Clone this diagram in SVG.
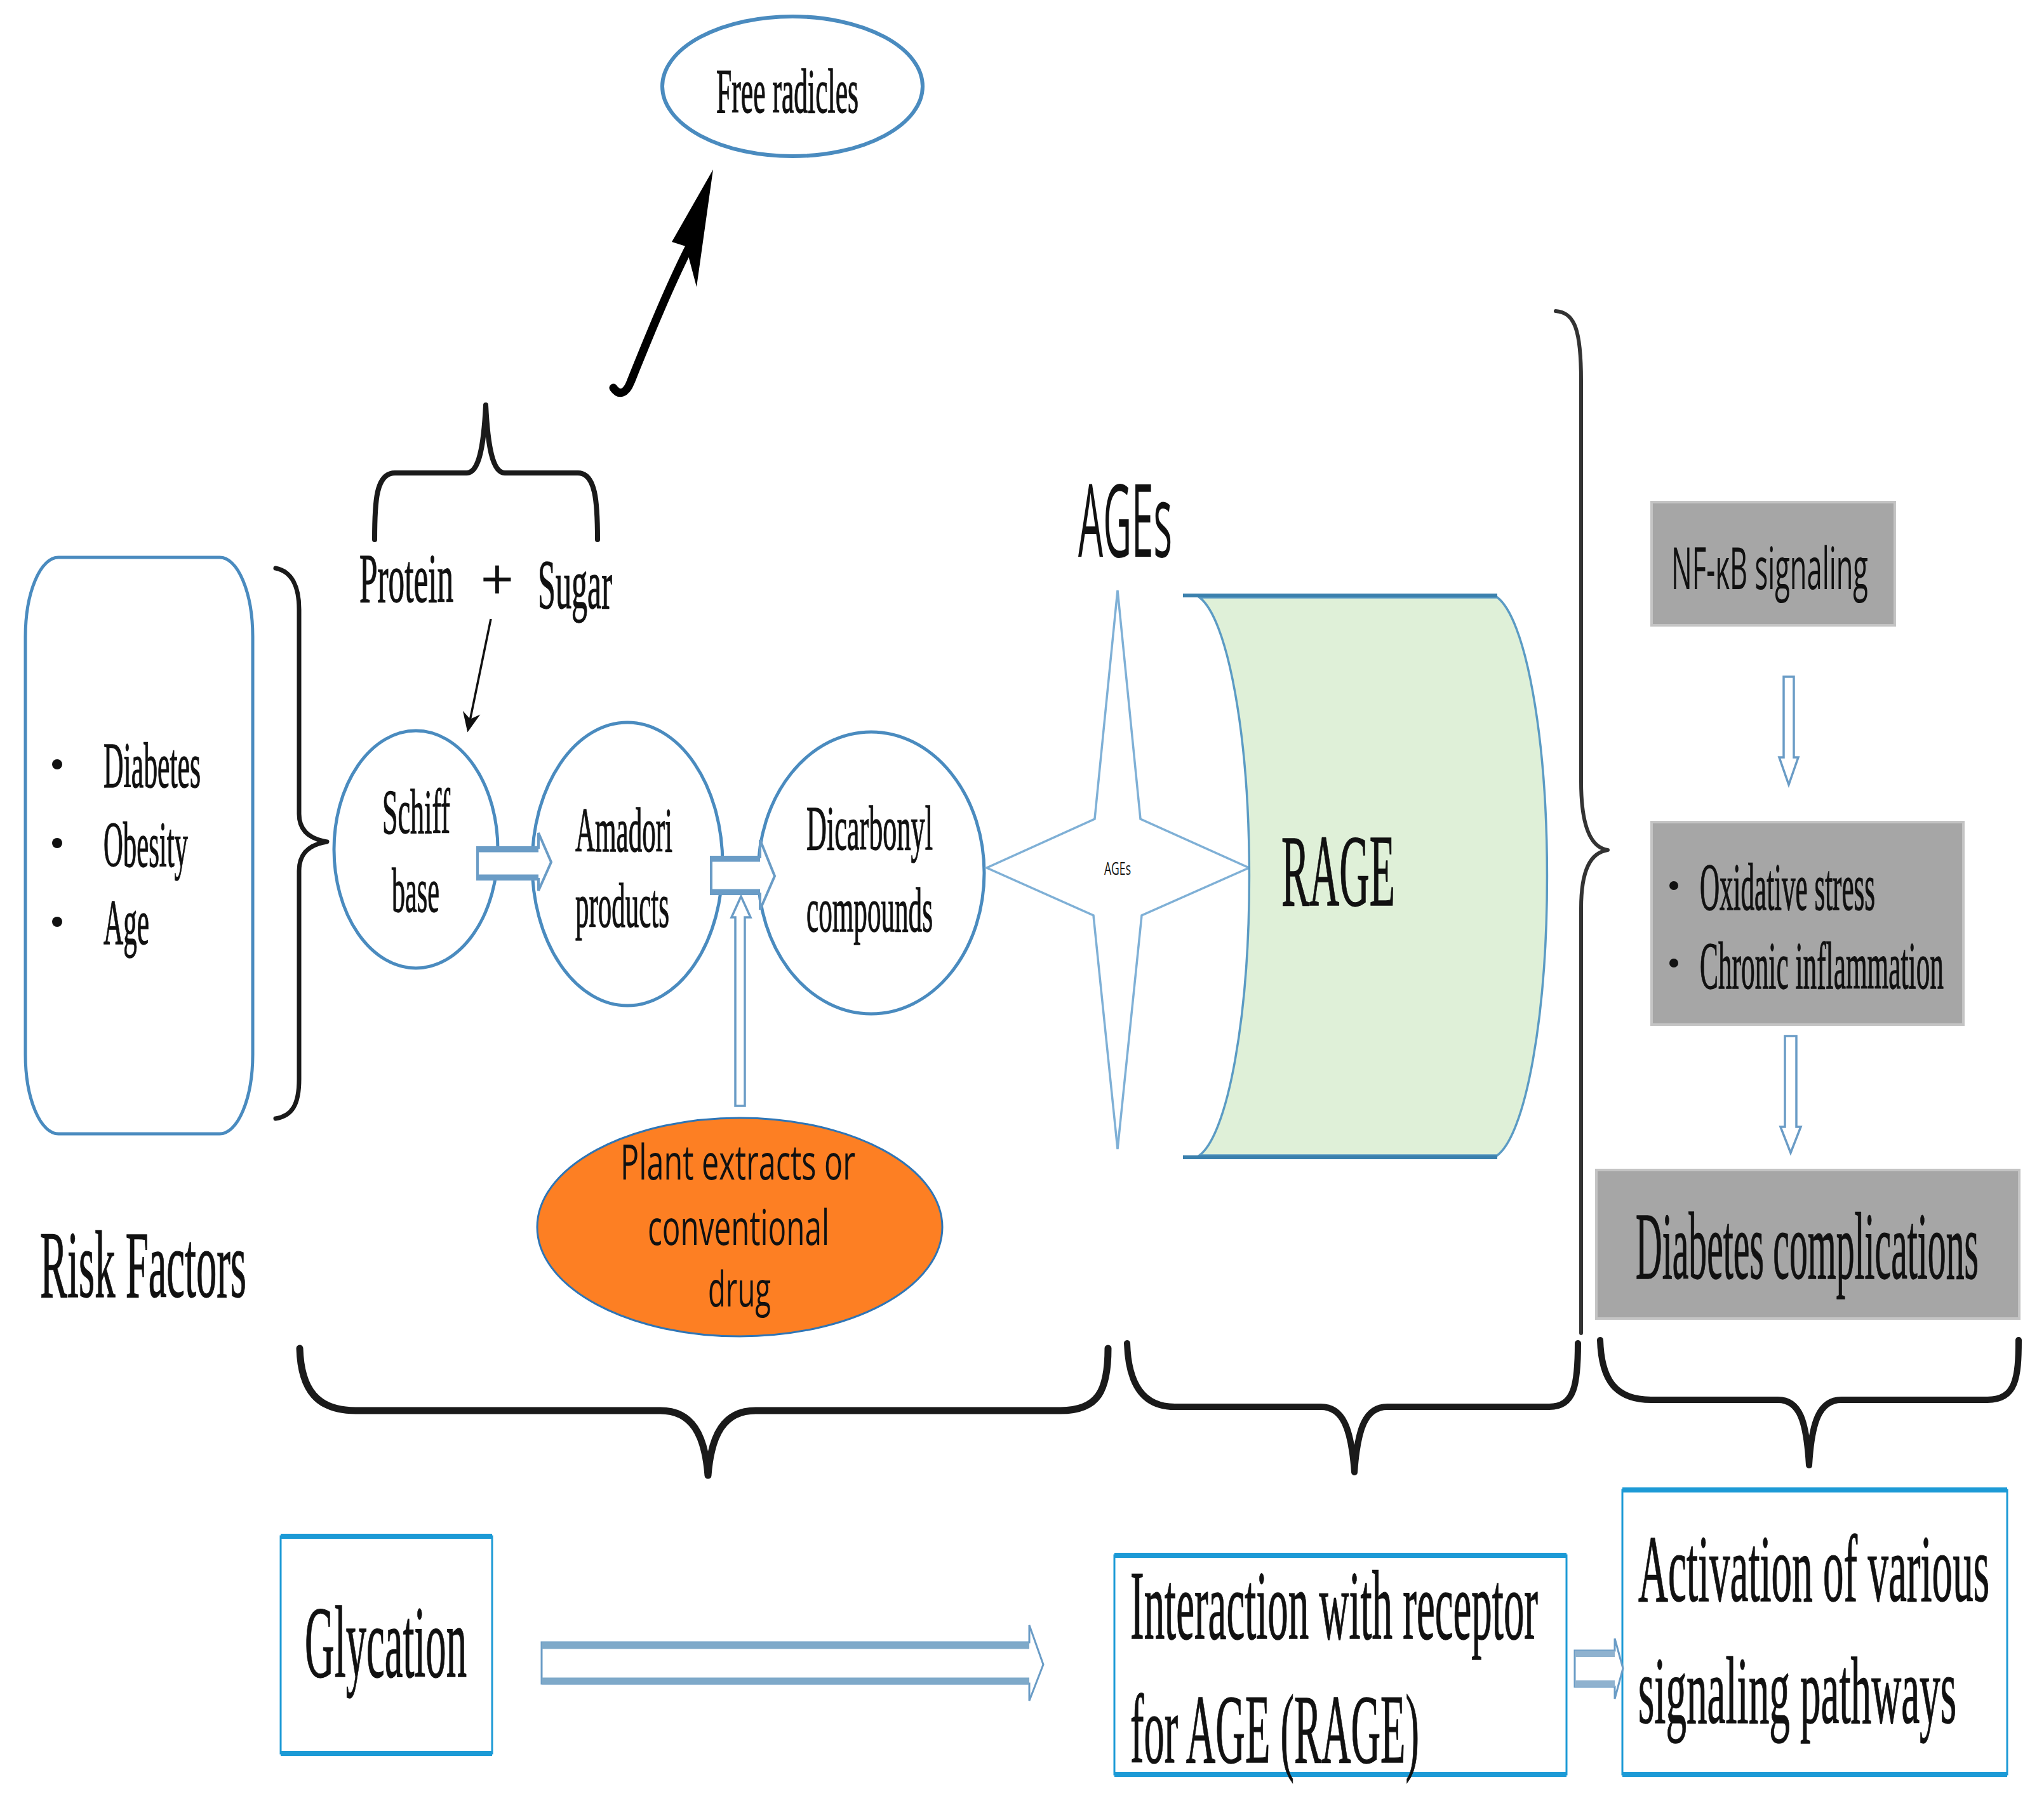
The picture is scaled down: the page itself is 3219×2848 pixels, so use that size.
<svg xmlns="http://www.w3.org/2000/svg" width="3219" height="2848" viewBox="0 0 3219 2848">
<style>
.serif{font-family:"Liberation Serif","Times New Roman",serif;fill:#111;stroke:#111;stroke-width:1.3;}
.sans{font-family:"Open Sans","Liberation Sans",sans-serif;fill:#111;}
.circ{fill:#fff;stroke:#4a8bbf;stroke-width:5;}
.hollow{fill:#fff;stroke:#6a9cc6;stroke-width:4;stroke-linejoin:miter;}
.body{stroke:#6a9cc6;stroke-width:9;}
.brace{fill:none;stroke:#1a1a1a;stroke-linecap:round;stroke-linejoin:round;}
.gray{fill:#a6a6a6;stroke:#c4c4c4;stroke-width:4;}
.bluebox{fill:#fff;stroke:#1c9ad6;stroke-width:3;}
.blueedge{stroke:#1c9ad6;stroke-width:8;}
</style>
<defs>
<marker id="thinhead" markerWidth="10" markerHeight="10" refX="8" refY="5" orient="auto" markerUnits="strokeWidth">
<path d="M0,1 L9,5 L0,9 L3,5 Z" fill="#111"/>
</marker>
</defs>
<rect width="3219" height="2848" fill="#fff"/>

<g id="free-radicles">
<ellipse cx="1248" cy="136" rx="205" ry="110" fill="#fff" stroke="#4a8bbf" stroke-width="6"/>
<text class="serif" x="1128" y="177" font-size="100" textLength="224" lengthAdjust="spacingAndGlyphs">Free radicles</text>
</g>

<g id="protein-sugar">
<text class="serif" x="566" y="948" font-size="110" textLength="148" lengthAdjust="spacingAndGlyphs">Protein</text>
<text class="serif" x="783" y="943" font-size="90" text-anchor="middle">+</text>
<text class="serif" x="847" y="958" font-size="110" textLength="117" lengthAdjust="spacingAndGlyphs">Sugar</text>
</g>

<g id="risk-factors">
<rect x="40" y="878" width="358" height="908" rx="52" ry="125" fill="#fff" stroke="#4a8bbf" stroke-width="5"/>
<circle cx="90" cy="1204" r="8" fill="#111"/>
<circle cx="90" cy="1328" r="8" fill="#111"/>
<circle cx="90" cy="1452" r="8" fill="#111"/>
<text class="serif" x="163" y="1240" font-size="102" textLength="153" lengthAdjust="spacingAndGlyphs">Diabetes</text>
<text class="serif" x="163" y="1365" font-size="102" textLength="133" lengthAdjust="spacingAndGlyphs">Obesity</text>
<text class="serif" x="163" y="1487" font-size="102" textLength="72" lengthAdjust="spacingAndGlyphs">Age</text>
<text class="serif" x="63" y="2043" font-size="150" textLength="325" lengthAdjust="spacingAndGlyphs">Risk Factors</text>
</g>

<g id="schiff-base">
<ellipse class="circ" cx="655" cy="1338" rx="129" ry="187"/>
<text class="serif" x="602" y="1312" font-size="100" textLength="107" lengthAdjust="spacingAndGlyphs">Schiff</text>
<text class="serif" x="617" y="1436" font-size="100" textLength="75" lengthAdjust="spacingAndGlyphs">base</text>
</g>

<g id="amadori">
<ellipse class="circ" cx="988" cy="1361" rx="150" ry="223"/>
<text class="serif" x="906" y="1341" font-size="100" textLength="153" lengthAdjust="spacingAndGlyphs">Amadori</text>
<text class="serif" x="906" y="1460" font-size="100" textLength="148" lengthAdjust="spacingAndGlyphs">products</text>
</g>

<g id="dicarbonyl">
<ellipse class="circ" cx="1372" cy="1375" rx="178" ry="222"/>
<text class="serif" x="1270" y="1338" font-size="100" textLength="199" lengthAdjust="spacingAndGlyphs">Dicarbonyl</text>
<text class="serif" x="1270" y="1467" font-size="100" textLength="199" lengthAdjust="spacingAndGlyphs">compounds</text>
</g>

<g id="plant-extracts">
<ellipse cx="1165" cy="1933" rx="319" ry="172" fill="#fd7f23" stroke="#2e75b6" stroke-width="3"/>
<text class="sans" x="977" y="1858" font-size="76" textLength="370" lengthAdjust="spacingAndGlyphs">Plant extracts or</text>
<text class="sans" x="1020" y="1961" font-size="76" textLength="286" lengthAdjust="spacingAndGlyphs">conventional</text>
<text class="sans" x="1115" y="2058" font-size="76" textLength="99" lengthAdjust="spacingAndGlyphs">drug</text>
</g>

<g id="ages">
<text class="sans" x="1698" y="877" font-size="160" textLength="148" lengthAdjust="spacingAndGlyphs">AGEs</text>
<polygon points="1760,930 1796,1290 1967,1367 1798,1442 1760,1810 1722,1442 1554,1367 1724,1290" fill="#fff" stroke="#7fb0d6" stroke-width="3.5" stroke-linejoin="miter"/>
<text class="sans" x="1739" y="1378" font-size="28" textLength="42" lengthAdjust="spacingAndGlyphs">AGEs</text>
</g>

<g id="rage">
<path d="M1889 941 L2358 941 A93 445 0 0 1 2358 1820 L1889 1820 A93 445 0 0 0 1889 941 Z" fill="#dff0d8" stroke="#5b9bc4" stroke-width="3.5"/>
<line x1="1863" y1="938" x2="2358" y2="938" stroke="#3a80ad" stroke-width="6"/>
<line x1="1863" y1="1823" x2="2358" y2="1823" stroke="#3a80ad" stroke-width="6"/>
<text class="serif" x="2018" y="1426" font-size="160" textLength="179" lengthAdjust="spacingAndGlyphs">RAGE</text>
</g>

<g id="nfkb">
<rect class="gray" x="2601" y="791" width="383" height="194"/>
<text class="sans" x="2632" y="928" font-size="92" textLength="310" lengthAdjust="spacingAndGlyphs">NF-κB signaling</text>
</g>

<g id="stress">
<rect class="gray" x="2601" y="1295" width="491" height="319"/>
<circle cx="2636" cy="1395" r="7" fill="#111"/>
<circle cx="2636" cy="1517" r="7" fill="#111"/>
<text class="serif" x="2677" y="1433" font-size="106" textLength="276" lengthAdjust="spacingAndGlyphs">Oxidative stress</text>
<text class="serif" x="2677" y="1557" font-size="106" textLength="384" lengthAdjust="spacingAndGlyphs">Chronic inflammation</text>
</g>

<g id="complications">
<rect class="gray" x="2514" y="1843" width="666" height="234"/>
<text class="serif" x="2576" y="2014" font-size="150" textLength="540" lengthAdjust="spacingAndGlyphs">Diabetes complications</text>
</g>

<g id="glycation">
<rect class="bluebox" x="442" y="2420" width="333" height="342"/>
<line class="blueedge" x1="442" y1="2420" x2="775" y2="2420"/>
<line class="blueedge" x1="442" y1="2762" x2="775" y2="2762"/>
<text class="serif" x="480" y="2641" font-size="160" textLength="255" lengthAdjust="spacingAndGlyphs">Glycation</text>
</g>

<g id="interaction">
<rect class="bluebox" x="1755" y="2450" width="712" height="345"/>
<line class="blueedge" x1="1755" y1="2450" x2="2467" y2="2450"/>
<line class="blueedge" x1="1755" y1="2795" x2="2467" y2="2795"/>
<text class="serif" x="1780" y="2581" font-size="155" textLength="642" lengthAdjust="spacingAndGlyphs">Interaction with receptor</text>
<text class="serif" x="1780" y="2776" font-size="155" textLength="455" lengthAdjust="spacingAndGlyphs">for AGE (RAGE)</text>
</g>

<g id="activation">
<rect class="bluebox" x="2555" y="2347" width="606" height="448"/>
<line class="blueedge" x1="2555" y1="2347" x2="3161" y2="2347"/>
<line class="blueedge" x1="2555" y1="2795" x2="3161" y2="2795"/>
<text class="serif" x="2580" y="2522" font-size="150" textLength="553" lengthAdjust="spacingAndGlyphs">Activation of various</text>
<text class="serif" x="2580" y="2714" font-size="150" textLength="501" lengthAdjust="spacingAndGlyphs">signaling pathways</text>
</g>

<g id="connectors">
<!-- black curved arrow to free radicles -->
<path d="M966 611 C975 624 986 620 993 602 C1018 540 1050 460 1084 392" fill="none" stroke="#000" stroke-width="13" stroke-linecap="round"/>
<polygon points="1123,267 1058,381 1080,388 1097,452" fill="#000"/>
<!-- thin arrow from + to Schiff base -->
<line x1="773" y1="975" x2="737" y2="1150" stroke="#111" stroke-width="3.5" marker-end="url(#thinhead)"/>
<!-- Schiff -> Amadori -->
<polygon class="hollow" points="752,1335 848,1335 848,1312 868,1358 848,1403 848,1385 752,1385"/>
<line class="body" x1="752" y1="1338" x2="848" y2="1338"/><line class="body" x1="752" y1="1382" x2="848" y2="1382"/>
<!-- Amadori -> Dicarbonyl -->
<polygon class="hollow" points="1120,1350 1197,1350 1197,1323 1220,1380 1197,1433 1197,1408 1120,1408"/>
<line class="body" x1="1120" y1="1353" x2="1197" y2="1353"/><line class="body" x1="1120" y1="1405" x2="1197" y2="1405"/>
<!-- plant extract inhibition arrow (up) -->
<polygon class="hollow" style="stroke-width:3.5" points="1158,1742 1158,1445 1152,1445 1167,1412 1182,1445 1173,1445 1173,1742"/>
<!-- NF-kB -> oxidative -->
<polygon class="hollow" style="stroke-width:3.5" points="2809,1066 2825,1066 2825,1193 2832,1193 2817,1236 2802,1193 2809,1193"/>
<!-- oxidative -> complications -->
<polygon class="hollow" style="stroke-width:3.5" points="2811,1632 2829,1632 2829,1775 2836,1775 2820,1816 2804,1775 2811,1775"/>
<!-- glycation -> interaction -->
<polygon class="hollow" style="stroke-width:3" points="853,2587 1621,2587 1621,2560 1643,2622 1621,2679 1621,2652 853,2652"/>
<line class="body" x1="853" y1="2592" x2="1621" y2="2592" style="stroke-width:11;stroke:#7ea9c9"/><line class="body" x1="853" y1="2648" x2="1621" y2="2648" style="stroke-width:11;stroke:#7ea9c9"/>
<!-- interaction -> activation -->
<polygon class="hollow" style="stroke-width:3" points="2480,2600 2543,2600 2543,2581 2556,2628 2543,2676 2543,2657 2480,2657"/>
<line class="body" x1="2480" y1="2605" x2="2543" y2="2605" style="stroke-width:10;stroke:#8fb2cf"/><line class="body" x1="2480" y1="2652" x2="2543" y2="2652" style="stroke-width:10;stroke:#8fb2cf"/>

<!-- braces -->
<path class="brace" stroke-width="8" d="M590 850 C590 790 592 745 622 745 L735 745 C755 745 762 700 765 638 C768 700 775 745 795 745 L910 745 C938 745 941 790 941 850"/>
<path class="brace" stroke-width="7" d="M434 895 C460 900 471 925 471 960 L471 1282 C471 1310 490 1322 515 1326 C490 1330 471 1342 471 1372 L471 1700 C471 1740 460 1758 434 1762"/>
<path class="brace" stroke-width="6" style="stroke:#333" d="M2450 490 C2480 492 2490 520 2490 600 L2490 1231 C2490 1300 2505 1335 2532 1339 C2505 1343 2490 1370 2490 1431 L2490 2100"/>
<path class="brace" stroke-width="11" d="M472 2124 C474 2190 500 2222 560 2222 L1040 2222 C1090 2222 1110 2260 1115 2324 C1120 2260 1140 2222 1190 2222 L1670 2222 C1730 2222 1745 2190 1745 2124"/>
<path class="brace" stroke-width="10" d="M1775 2116 C1777 2180 1800 2216 1850 2216 L2080 2216 C2115 2216 2128 2250 2133 2319 C2138 2250 2150 2216 2185 2216 L2440 2216 C2480 2216 2485 2180 2485 2116"/>
<path class="brace" stroke-width="10" d="M2520 2111 C2522 2175 2545 2205 2600 2205 L2800 2205 C2835 2205 2845 2240 2849 2308 C2853 2240 2865 2205 2900 2205 L3130 2205 C3175 2205 3179 2170 3179 2111"/>
</g>
</svg>
